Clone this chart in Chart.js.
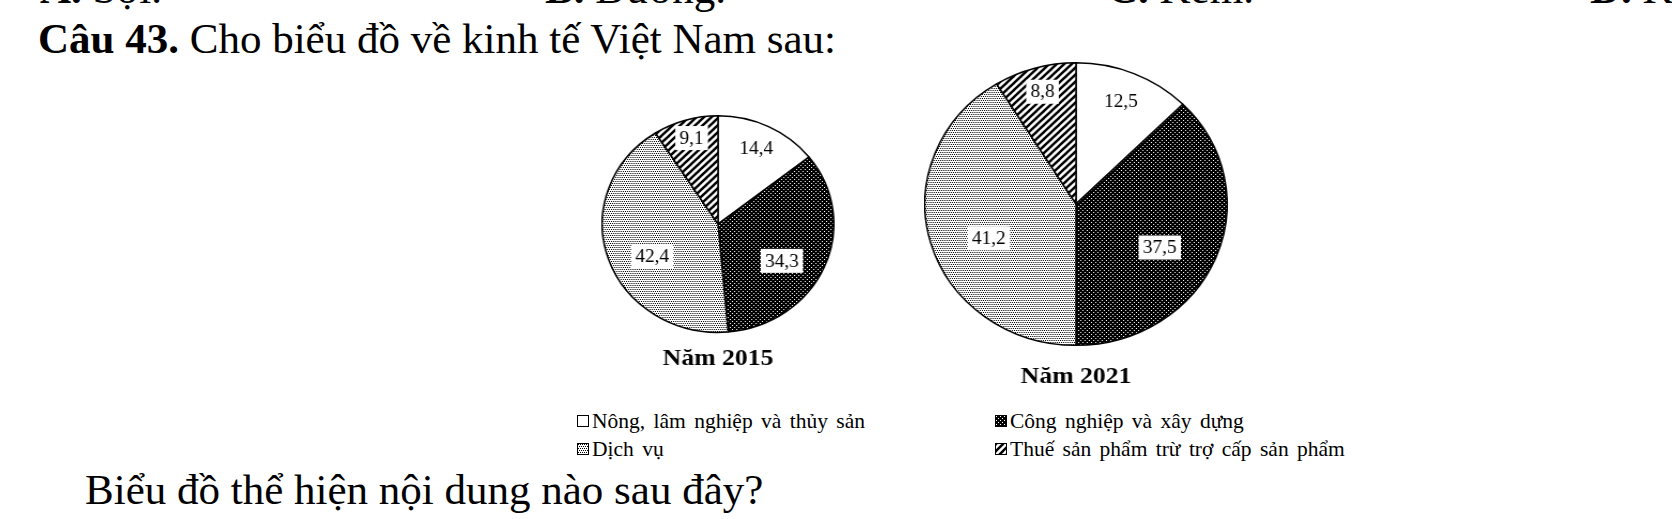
<!DOCTYPE html>
<html lang="vi">
<head>
<meta charset="utf-8">
<script src="https://cdn.jsdelivr.net/npm/chart.js@4.4.1/dist/chart.umd.min.js"></script>
<style>
  html, body { margin: 0; padding: 0; background: #fff; }
  body { width: 1672px; height: 519px; position: relative; overflow: hidden; font-family: 'Liberation Serif', 'Times New Roman', serif; color: #000; }
  .line { position: absolute; font-size: 43px; line-height: 1; white-space: nowrap; }
  .pie { position: absolute; transform: scaleX(1.07); transform-origin: 50% 50%; }
  .leg { position: absolute; font-size: 21.5px; line-height: 1; white-space: nowrap; word-spacing: 3px; }
  .sw { display: inline-block; width: 10px; height: 10px; border: 1px solid #000; margin-right: 3px; margin-bottom: 1px; background-repeat: repeat; }
</style>
</head>
<body>
<div class="line" style="left:40px;top:-33px"><b>A.</b> Sợi.</div>
<div class="line" style="left:545px;top:-33px"><b>B.</b> Đường.</div>
<div class="line" style="left:1107px;top:-33px"><b>C.</b> Kem.</div>
<div class="line" style="left:1590px;top:-33px"><b>D.</b> Kẹo.</div>

<div class="line" style="left:38px;top:17px"><b>Câu 43.</b> Cho biểu đồ về kinh tế Việt Nam sau:</div>

<canvas id="pie2015" class="pie" width="218" height="258" style="left:609px;top:115px"></canvas>
<canvas id="pie2021" class="pie" width="284" height="329" style="left:934px;top:62px"></canvas>

<div id="legend"></div>

<div class="line" style="left:85px;top:468px">Biểu đồ thể hiện nội dung nào sau đây?</div>

<script>
const categories = ['Nông, lâm nghiệp và thủy sản', 'Công nghiệp và xây dựng', 'Dịch vụ', 'Thuế sản phẩm trừ trợ cấp sản phẩm'];
const years = ['Năm 2015', 'Năm 2021'];
const values2015 = [14.4, 34.3, 42.4, 9.1];
const values2021 = [12.5, 37.5, 41.2, 8.8];

const serif = "'Liberation Serif', 'Times New Roman', serif";

// small bitmap tiles used as fills (white, dark dots, light dots, stripes)
function tile(size, bg, fg, draw) {
  const c = document.createElement('canvas');
  c.width = c.height = size;
  const g = c.getContext('2d');
  g.fillStyle = bg;
  g.fillRect(0, 0, size, size);
  g.fillStyle = fg;
  g.strokeStyle = fg;
  draw(g, size);
  return c;
}
const sparse = [[0, 0], [2, 2]];
const dense = [[0, 0], [2, 0], [1, 2], [3, 2]];
const tiles = [
  tile(4, '#fff', '#fff', () => {}),
  tile(4, '#000', '#fff', g => sparse.forEach(([x, y]) => g.fillRect(x, y, 1, 1))),
  tile(4, '#fff', '#000', g => dense.forEach(([x, y]) => g.fillRect(x, y, 1, 1))),
  tile(7, '#fff', '#000', (g, s) => {
    g.lineWidth = 2.4;
    [-s, 0, s].forEach(o => {
      g.beginPath();
      g.moveTo(o - 1, s + 1);
      g.lineTo(o + s + 1, -1);
      g.stroke();
    });
  })
];

const sliceLabels = {
  id: 'sliceLabels',
  afterDatasetsDraw(chart) {
    const ctx = chart.ctx;
    const data = chart.data.datasets[0].data;
    const total = data.reduce((a, b) => a + b, 0);
    ctx.save();
    ctx.font = '18px ' + serif;
    ctx.textAlign = 'center';
    ctx.textBaseline = 'middle';
    chart.getDatasetMeta(0).data.forEach((arc, i) => {
      const pct = data[i] / total * 100;
      const f = 0.6 + 0.3 * (1 - Math.min(pct, 30) / 30);
      const a = (arc.startAngle + arc.endAngle) / 2;
      const x = arc.x + Math.cos(a) * arc.outerRadius * f;
      // boxes hang below the anchor in the lower half, sit above it in the upper half
      const y = arc.y + Math.sin(a) * arc.outerRadius * f + (Math.sin(a) > 0 ? 11 : -2);
      const txt = String(data[i]).replace('.', ',');
      const w = ctx.measureText(txt).width + 8;
      ctx.fillStyle = '#fff';
      ctx.fillRect(x - w / 2, y - 12, w, 24);
      ctx.fillStyle = '#000';
      ctx.fillText(txt, x, y + 1);
    });
    ctx.restore();
  }
};

function drawPie(id, values, year, gap) {
  const el = document.getElementById(id);
  const ctx = el.getContext('2d');
  return new Chart(el, {
    type: 'pie',
    data: {
      labels: categories,
      datasets: [{
        data: values,
        backgroundColor: tiles.map(t => ctx.createPattern(t, 'repeat')),
        borderColor: '#000',
        borderWidth: 1.5
      }]
    },
    options: {
      responsive: false,
      animation: false,
      layout: { padding: 0 },
      plugins: {
        legend: { display: false },
        tooltip: { enabled: false },
        title: {
          display: true,
          text: year,
          position: 'bottom',
          color: '#000',
          font: { family: serif, size: 24, weight: 'bold' },
          padding: { top: gap, bottom: 0 }
        }
      }
    },
    plugins: [sliceLabels]
  });
}

drawPie('pie2015', values2015, years[0], 11);
drawPie('pie2021', values2021, years[1], 16);

// shared legend, 2 columns x 2 rows
const legCols = [577, 995];
const legRows = [411, 439];
const legend = document.getElementById('legend');
categories.forEach((name, i) => {
  const item = document.createElement('div');
  item.className = 'leg';
  item.style.left = legCols[i % 2] + 'px';
  item.style.top = legRows[Math.floor(i / 2)] + 'px';
  const sw = document.createElement('span');
  sw.className = 'sw';
  sw.style.backgroundImage = 'url(' + tiles[i].toDataURL() + ')';
  item.appendChild(sw);
  item.appendChild(document.createTextNode(name));
  legend.appendChild(item);
});
</script>
</body>
</html>
